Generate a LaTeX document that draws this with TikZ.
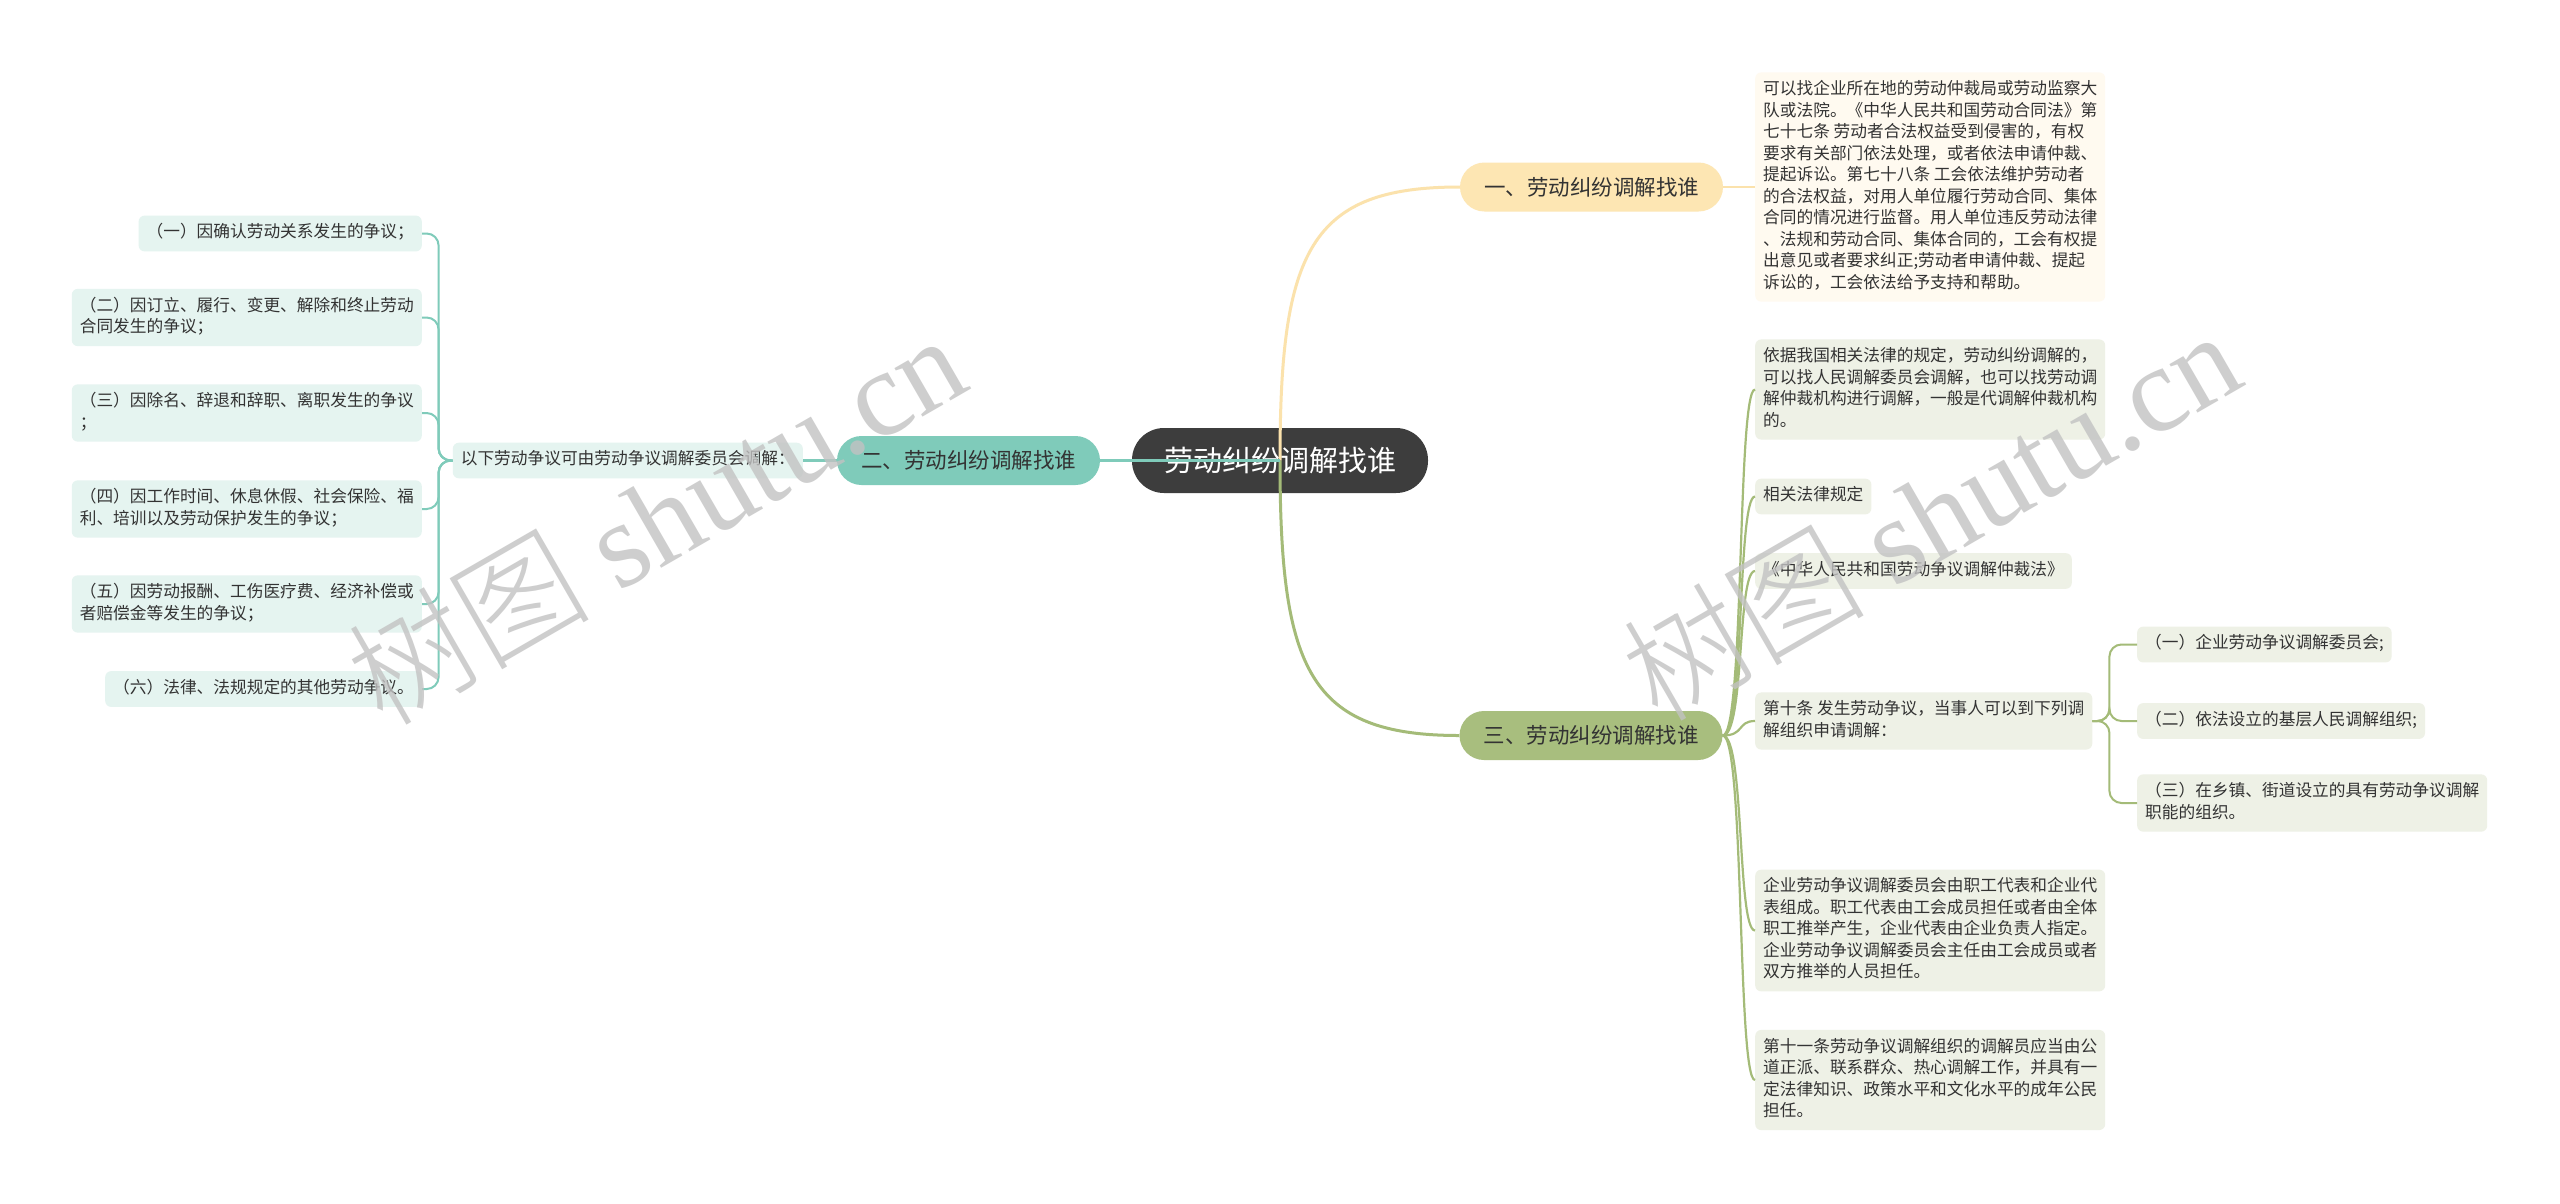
\documentclass[tikz,border=0pt]{standalone}
\usepackage{fontspec}
\setmainfont{Noto Sans CJK SC}
\newfontfamily\wmcjk{Noto Sans CJK SC Light}
\newfontfamily\wmlatin{Liberation Serif}
\usetikzlibrary{calc}

\definecolor{rootfill}{HTML}{3D3D3D}
\definecolor{yelfill}{HTML}{FDE6B3}
\definecolor{yelleaf}{HTML}{FFFAF0}
\definecolor{yelline}{HTML}{FBE2AC}
\definecolor{tealfill}{HTML}{7FCBBA}
\definecolor{tealleaf}{HTML}{E5F4F0}
\definecolor{olivefill}{HTML}{A8BE7E}
\definecolor{oliveline}{HTML}{A4BB78}
\definecolor{oliveleaf}{HTML}{EEF1E6}
\definecolor{txt}{HTML}{333333}
\newcommand\lstrut{\rule[-5.5pt]{0pt}{16pt}}

\begin{document}
\begin{tikzpicture}[x=1pt,y=-1pt,
  root/.style={fill=rootfill, text=white, rounded corners=32pt, minimum height=65pt,
    inner xsep=32pt, inner ysep=0pt, font=\fontsize{29}{32}\selectfont},
  branch/.style={rounded corners=24.5pt, minimum height=49pt, inner xsep=24pt,
    inner ysep=0pt, text=txt, font=\fontsize{21.5}{24}\selectfont},
  leaf/.style={rounded corners=6pt, inner xsep=8pt, inner ysep=8pt, align=left, text=txt,
    font=\fontsize{16.7}{21.5}\selectfont,
    execute at begin node=\lstrut, execute at end node=\lstrut},
  link/.style={line width=2pt, rounded corners=12pt},
  watermark/.style={rotate=30, text=black!24, opacity=.8, font=\fontsize{122}{130}\selectfont}
]
\path[use as bounding box, fill=white] (0,0) rectangle (2560,1203);

% main topic and the three branches
\node[root] (root) at (1280,460.5) {劳动纠纷调解找谁};
\node[branch, fill=yelfill] (b1) at (1591.5,187) {一、劳动纠纷调解找谁};
\node[branch, fill=tealfill] (b2) at (968.5,460.5) {二、劳动纠纷调解找谁};
\node[branch, fill=olivefill] (b3) at (1591,735.5) {三、劳动纠纷调解找谁};

% branch one
\node[leaf, fill=yelleaf, anchor=west] (b1note) at (1755,187) {可以找企业所在地的劳动仲裁局或劳动监察大\\
队或法院。《中华人民共和国劳动合同法》第\\
七十七条 劳动者合法权益受到侵害的，有权\\
要求有关部门依法处理，或者依法申请仲裁、\\
提起诉讼。第七十八条 工会依法维护劳动者\\
的合法权益，对用人单位履行劳动合同、集体\\
合同的情况进行监督。用人单位违反劳动法律\\
、法规和劳动合同、集体合同的，工会有权提\\
出意见或者要求纠正;劳动者申请仲裁、提起\\
诉讼的，工会依法给予支持和帮助。};

% branch two
\node[leaf, fill=tealleaf, anchor=east] (lq) at (803,460.5) {以下劳动争议可由劳动争议调解委员会调解：};
\node[leaf, fill=tealleaf, anchor=east] (la) at (422,233.5) {（一）因确认劳动关系发生的争议；};
\node[leaf, fill=tealleaf, anchor=east] (lb) at (422,317.5) {（二）因订立、履行、变更、解除和终止劳动\\合同发生的争议；};
\node[leaf, fill=tealleaf, anchor=east] (lc) at (422,413) {（三）因除名、辞退和辞职、离职发生的争议\\；};
\node[leaf, fill=tealleaf, anchor=east] (ld) at (422,509) {（四）因工作时间、休息休假、社会保险、福\\利、培训以及劳动保护发生的争议；};
\node[leaf, fill=tealleaf, anchor=east] (le) at (422,604) {（五）因劳动报酬、工伤医疗费、经济补偿或\\者赔偿金等发生的争议；};
\node[leaf, fill=tealleaf, anchor=east] (lf) at (422,689) {（六）法律、法规规定的其他劳动争议。};

% branch three
\node[leaf, fill=oliveleaf, anchor=west] (ra) at (1755,389.5) {依据我国相关法律的规定，劳动纠纷调解的，\\
可以找人民调解委员会调解，也可以找劳动调\\
解仲裁机构进行调解，一般是代调解仲裁机构\\
的。};
\node[leaf, fill=oliveleaf, anchor=west] (rb) at (1755,496.5) {相关法律规定};
\node[leaf, fill=oliveleaf, anchor=west] (rc) at (1755,571) {《中华人民共和国劳动争议调解仲裁法》};
\node[leaf, fill=oliveleaf, anchor=west] (rd) at (1755,721) {第十条 发生劳动争议，当事人可以到下列调\\解组织申请调解：};
\node[leaf, fill=oliveleaf, anchor=west] (re) at (1755,930.5) {企业劳动争议调解委员会由职工代表和企业代\\
表组成。职工代表由工会成员担任或者由全体\\
职工推举产生，企业代表由企业负责人指定。\\
企业劳动争议调解委员会主任由工会成员或者\\
双方推举的人员担任。};
\node[leaf, fill=oliveleaf, anchor=west] (rf) at (1755,1080) {第十一条劳动争议调解组织的调解员应当由公\\
道正派、联系群众、热心调解工作，并具有一\\
定法律知识、政策水平和文化水平的成年公民\\
担任。};
\node[leaf, fill=oliveleaf, anchor=west] (sa) at (2137,644.5) {（一）企业劳动争议调解委员会;};
\node[leaf, fill=oliveleaf, anchor=west] (sb) at (2137,721) {（二）依法设立的基层人民调解组织;};
\node[leaf, fill=oliveleaf, anchor=west] (sc) at (2137,803) {（三）在乡镇、街道设立的具有劳动争议调解\\职能的组织。};

% connectors
\draw[yelline, line width=3pt] (root.center) .. controls +(0,-210) and +(-150,0) .. (b1.west);
\draw[oliveline, line width=3pt] (root.center) .. controls +(0,210) and +(-150,0) .. (b3.west);
\draw[tealfill, line width=3pt] (root.center) -- (b2.east);
\draw[yelline, line width=2.5pt] (b1.east) -- (b1note.west);
\draw[tealfill, line width=2.5pt] (b2.west) -- (lq.east);
\foreach \n in {la,lb,lc,ld,le,lf}
  \draw[link, tealfill] (lq.west) -- ++(-14,0) |- (\n.east);
\foreach \n in {ra,rb,rc,rd,re,rf}
  \draw[oliveline, line width=2.2pt] (b3.east) .. controls +(22,0) and +(-18,0) .. (\n.west);
\foreach \n in {sa,sb,sc}
  \draw[link, oliveline] (rd.east) -- ++(17,0) |- (\n.west);

% watermark
\node[watermark] (wm1) at (655,518) {{\wmcjk 树图} {\wmlatin shutu.cn}};
\node[watermark] (wm2) at (1930,514) {{\wmcjk 树图} {\wmlatin shutu.cn}};
\end{tikzpicture}
\end{document}
